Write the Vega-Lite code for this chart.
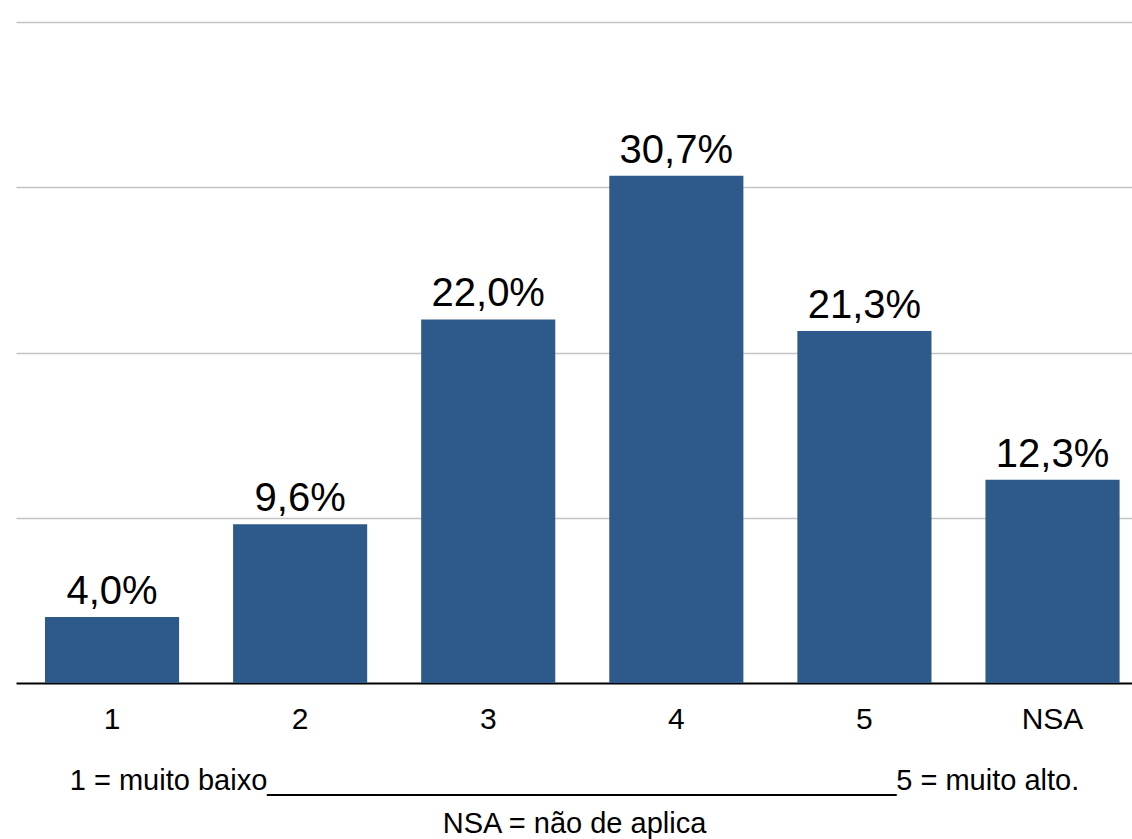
{
  "$schema": "https://vega.github.io/schema/vega-lite/v6.json",
  "width": 1116,
  "height": 661,
  "autosize": {"type": "none"},
  "padding": {"left": 16, "top": 22, "right": 0, "bottom": 156},
  "background": "#ffffff",
  "config": {
    "view": {"stroke": null},
    "font": "Liberation Sans",
    "locale": {"number": {"decimal": ",", "thousands": ".", "grouping": [3], "currency": ["", " €"]}}
  },
  "data": {
    "values": [
      {"categoria": "1", "valor": 0.040},
      {"categoria": "2", "valor": 0.096},
      {"categoria": "3", "valor": 0.220},
      {"categoria": "4", "valor": 0.307},
      {"categoria": "5", "valor": 0.213},
      {"categoria": "NSA", "valor": 0.123}
    ]
  },
  "encoding": {
    "x": {
      "field": "categoria",
      "type": "nominal",
      "sort": null,
      "scale": {"paddingInner": 0.287, "paddingOuter": 0.11, "align": 0.7},
      "axis": {
        "labelAngle": 0,
        "labelFontSize": 30,
        "labelColor": "#000000",
        "labelBaseline": "alphabetic",
        "labelPadding": 45,
        "ticks": false,
        "domainColor": "#000000",
        "domainWidth": 2,
        "title": ["1 = muito baixo_______________________________________5 = muito alto.", "NSA = não de aplica"],
        "titleFontSize": 29,
        "titleFontWeight": "normal",
        "titleColor": "#000000",
        "titleLineHeight": 43,
        "titlePadding": 32
      }
    },
    "y": {
      "field": "valor",
      "type": "quantitative",
      "scale": {"domain": [0, 0.4], "nice": false},
      "axis": {
        "values": [0.1, 0.2, 0.3, 0.4],
        "labels": false,
        "ticks": false,
        "domain": false,
        "title": null,
        "gridColor": "#c4c4c4",
        "gridWidth": 1.3
      }
    }
  },
  "layer": [
    {"mark": {"type": "bar", "color": "#2e5a8b"}},
    {
      "mark": {"type": "text", "baseline": "alphabetic", "dy": -13, "fontSize": 40, "color": "#000000"},
      "encoding": {"text": {"field": "valor", "type": "quantitative", "format": ".1%"}}
    }
  ]
}
